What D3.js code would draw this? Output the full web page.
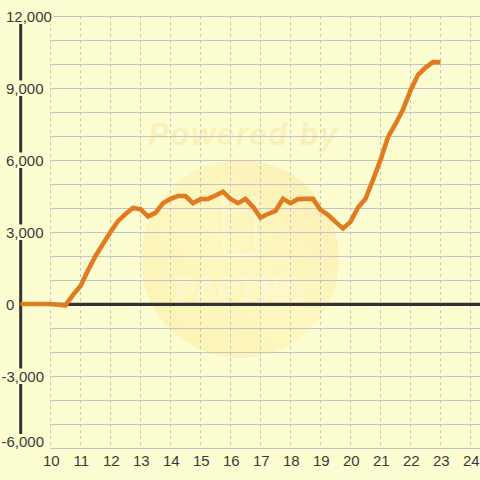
<!DOCTYPE html>
<html><head><meta charset="utf-8">
<script src="https://cdn.jsdelivr.net/npm/d3@7"></script>
<style>html,body{margin:0;padding:0;background:#fdfdd2;}svg{display:block;}</style>
</head><body>
<svg id="c" width="480" height="480"></svg>
<script>
const hours = [9,9.25,9.5,9.75,10,10.25,10.5,10.75,11,11.25,11.5,11.75,12,12.25,12.5,12.75,13,13.25,13.5,13.75,14,14.25,14.5,14.75,15,15.25,15.5,15.75,16,16.25,16.5,16.75,17,17.25,17.5,17.75,18,18.25,18.5,18.75,19,19.25,19.5,19.75,20,20.25,20.5,20.75,21,21.25,21.5,21.75,22,22.25,22.5,22.75,23];
const values = [0,0,0,0,0,-30,-60,380,750,1400,2000,2500,3000,3450,3750,4000,3950,3650,3800,4200,4380,4500,4500,4200,4370,4380,4520,4680,4380,4200,4380,4050,3600,3750,3880,4380,4200,4370,4380,4380,3920,3720,3420,3150,3420,4020,4380,5170,6000,6950,7500,8100,8900,9550,9850,10080,10080];
const xTicks = [10,11,12,13,14,15,16,17,18,19,20,21,22,23,24];
const yTicks = [12000,9000,6000,3000,0,-3000,-6000];
const yGrid = [-6000,-5000,-4000,-3000,-2000,-1000,0,1000,2000,3000,4000,5000,6000,7000,8000,9000,10000,11000,12000];

const svg = d3.select('#c');
const bg = '#fdfdd2';
const x = d3.scaleLinear().domain([9,24]).range([20.5,470.5]);
const y = d3.scaleLinear().domain([-6000,12000]).range([448,16]);

svg.append('rect').attr('width',480).attr('height',480).attr('fill',bg);

// watermark
const defs = svg.append('defs');
const lg = defs.append('linearGradient').attr('id','wg').attr('x1','0').attr('y1','1').attr('x2','1').attr('y2','0');
lg.append('stop').attr('offset','0').attr('stop-color','#fcf3b2');
lg.append('stop').attr('offset','0.5').attr('stop-color','#fdf7c0');
lg.append('stop').attr('offset','1').attr('stop-color','#f9efb2');
svg.append('circle').attr('cx',240).attr('cy',259).attr('r',99).attr('fill','url(#wg)');
svg.append('text').attr('x',148).attr('y',145).attr('textLength',189).attr('lengthAdjust','spacing')
  .attr('font-family','Liberation Sans, Arial, sans-serif').attr('font-weight','bold').attr('font-style','italic')
  .attr('font-size',31).attr('fill','#f9f1b8').text('Powered by');
svg.append('rect').attr('x',224).attr('y',198).attr('width',32).attr('height',57).attr('rx',3)
  .attr('fill','none').attr('stroke','#ffffff').attr('stroke-opacity',0.4).attr('stroke-width',2);
svg.append('text').attr('x',174).attr('y',304).attr('textLength',130).attr('lengthAdjust','spacing')
  .attr('font-family','DejaVu Sans Mono, monospace').attr('font-size',36)
  .attr('fill','none').attr('stroke','#ffffff').attr('stroke-opacity',0.4).attr('stroke-width',1.5).text('PAPIMO');

// horizontal grid
svg.append('g').selectAll('line').data(yGrid).join('line')
  .attr('x1',50).attr('x2',480).attr('y1',d=>y(d)+0.5).attr('y2',d=>y(d)+0.5)
  .attr('stroke','#c4c4c8').attr('stroke-width',1);
// vertical grid
svg.append('g').selectAll('line').data(xTicks).join('line')
  .attr('x1',d=>Math.floor(x(d))+0.5).attr('x2',d=>Math.floor(x(d))+0.5).attr('y1',16).attr('y2',447)
  .attr('stroke','#c4c4c8').attr('stroke-width',1).attr('stroke-dasharray','3,3');

// y axis line
svg.append('line').attr('x1',20.7).attr('x2',20.7).attr('y1',16).attr('y2',448)
  .attr('stroke','#333333').attr('stroke-width',3);
// zero line
svg.append('line').attr('x1',20).attr('x2',480).attr('y1',y(0)+0.3).attr('y2',y(0)+0.3)
  .attr('stroke','#333333').attr('stroke-width',3.3);

// y labels
const fmt = v => d3.format(',')(v).replace('\u2212','-');
const yl = svg.append('g');
yTicks.forEach(v=>{
  let base = y(v)+5.5;
  if (base > 447) base = 447;
  const g = yl.append('g');
  const t = g.append('text').attr('x', v<0 ? 1.5 : 6).attr('y',base)
    .attr('font-family','Liberation Sans, Arial, sans-serif').attr('font-size',15).attr('fill','#3a3a3a')
    .text(fmt(v));
  const bb = t.node().getBBox();
  g.insert('rect','text').attr('x',bb.x-1).attr('y',base-13).attr('width',bb.width+2).attr('height',15.5).attr('fill',bg);
});

// x labels
svg.append('g').selectAll('text').data(xTicks).join('text')
  .attr('x',d=>x(d)+0.8).attr('y',466).attr('text-anchor','middle')
  .attr('font-family','Liberation Sans, Arial, sans-serif').attr('font-size',15).attr('fill','#3a3a3a')
  .text(d=>d);

// series line
const pts = hours.map((h,i)=>[h,values[i]]);
svg.append('path').datum(pts)
  .attr('d', d3.line().x(d=>x(d[0])).y(d=>y(d[1])))
  .attr('fill','none').attr('stroke','#e07b22').attr('stroke-width',4.6).attr('stroke-linejoin','miter');
</script>
</body></html>
